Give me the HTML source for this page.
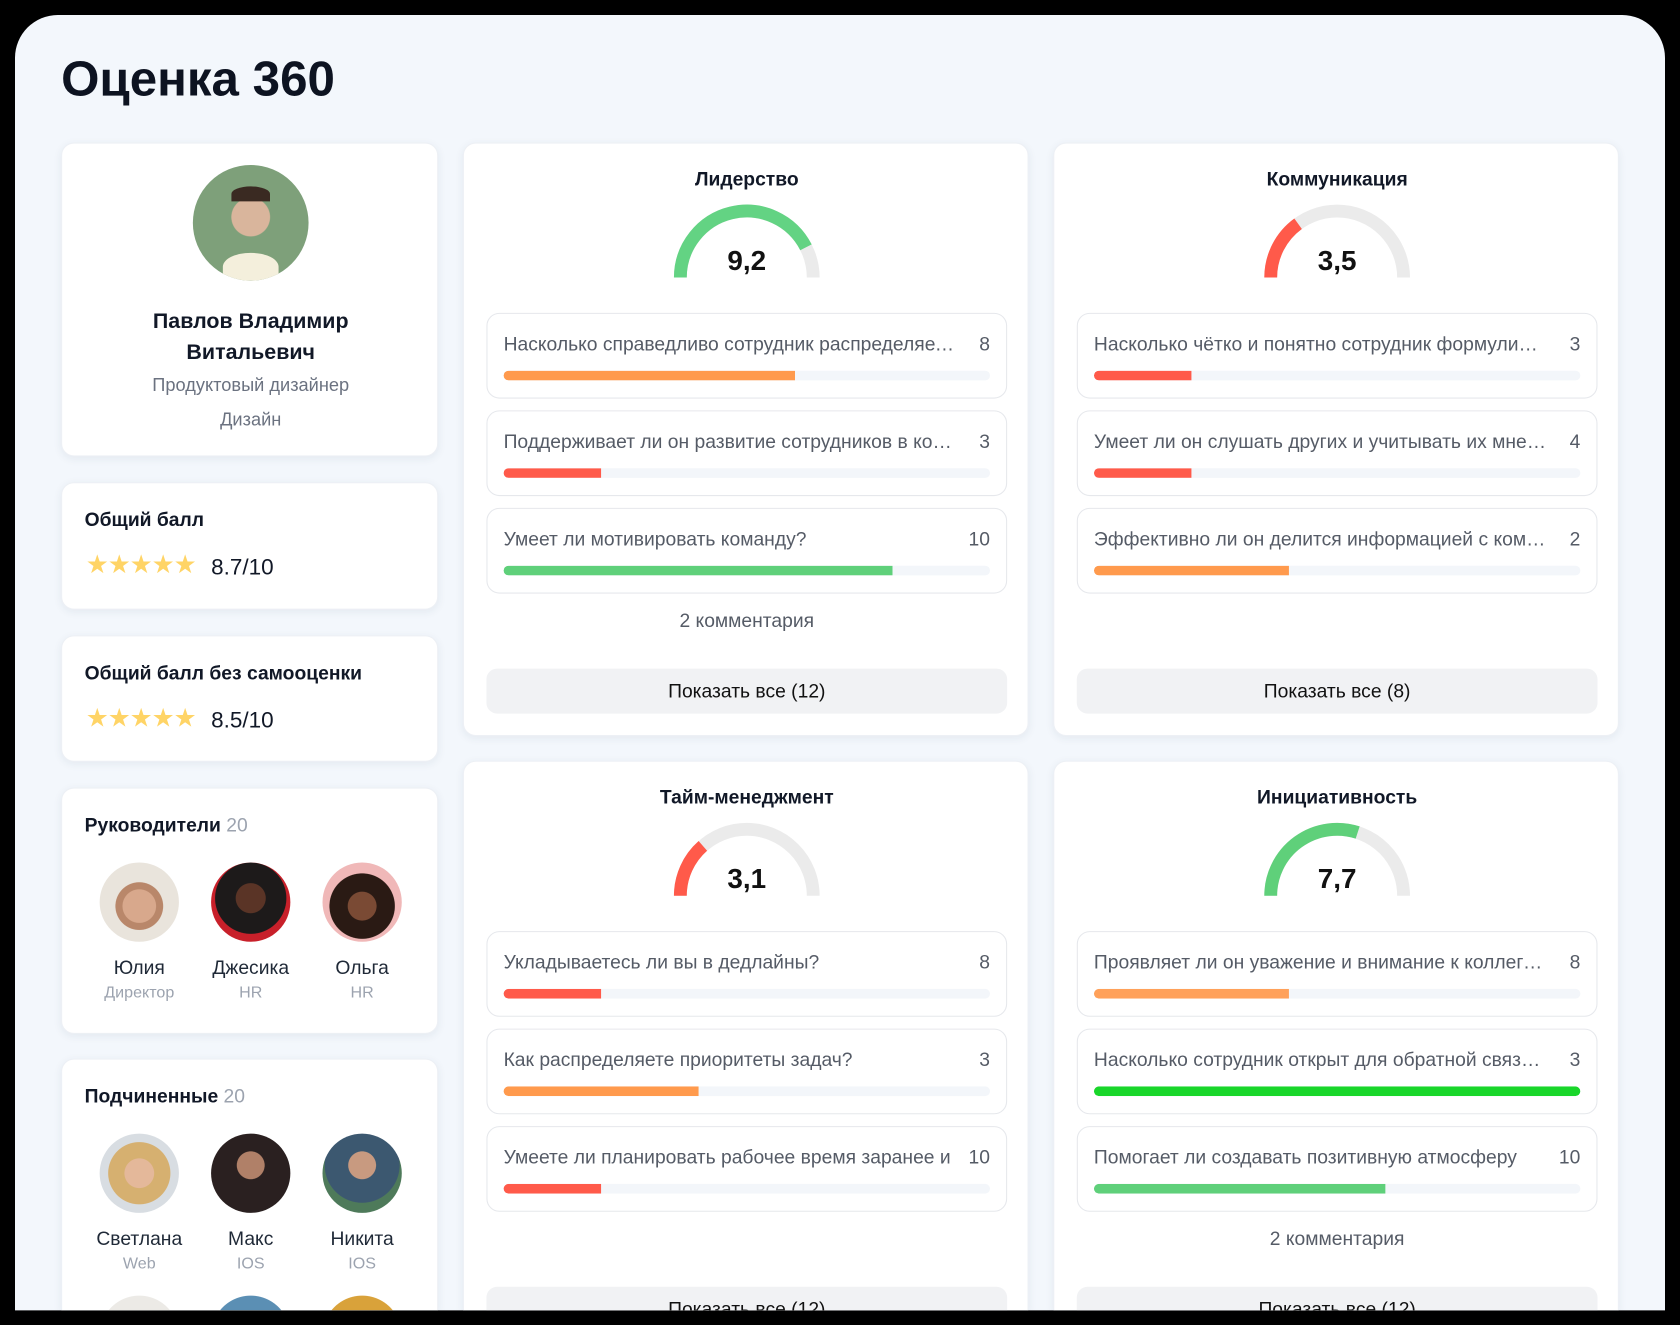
<!DOCTYPE html>
<html><head><meta charset="utf-8">
<style>
html,body{margin:0;padding:0;width:1680px;height:1325px;overflow:hidden;background:#000;}
#stage{position:absolute;left:0;top:0;width:1568px;height:1236px;overflow:hidden;transform:scale(1.071429);transform-origin:0 0;font-family:"Liberation Sans","DejaVu Sans",sans-serif;color:#111827;}
#clip{position:absolute;left:14px;top:14px;width:1540px;height:1209px;background:#f3f7fc;border-radius:40px 40px 0 0;overflow:hidden;}
#inner{position:absolute;left:-14px;top:-14px;width:1568px;height:1223px;}
.abs{position:absolute;}
.card{position:absolute;background:#fff;border-radius:12px;box-shadow:0 2px 8px rgba(30,50,90,0.07);border:1px solid #edf0f5;box-sizing:border-box;overflow:hidden;}
.cut{border-bottom:none;border-radius:12px 12px 0 0;}
.ctr{text-align:center;}
.q{position:absolute;border:1px solid #e6e8ec;border-radius:12px;box-sizing:border-box;background:#fff;}
.qt{position:absolute;left:15px;top:18px;width:422px;font-size:18px;color:#555b66;white-space:nowrap;overflow:hidden;text-overflow:ellipsis;}
.qn{position:absolute;right:15px;top:18px;font-size:18px;color:#555b66;}
.track{position:absolute;left:15px;top:53px;width:454px;height:9px;background:#f3f6fa;border-radius:5px;overflow:hidden;}
.fill{position:absolute;left:0;top:0;height:9px;border-radius:5px 0 0 5px;}
.btn{position:absolute;height:42px;border-radius:10px;background:#f1f2f4;font-size:18px;color:#111;text-align:center;line-height:42px;overflow:hidden;}
.person{position:absolute;width:104px;text-align:center;}
.av{width:74px;height:74px;border-radius:50%;margin:0 auto;}
.pn{font-size:18px;margin-top:14px;color:#1f2937;}
.pr{font-size:15px;color:#9ca3af;margin-top:4px;}
.star{font-size:24px;color:#ffd466;letter-spacing:-1px;}
</style></head>
<body>
<div id="stage">
<div id="clip">
<div id="inner">
<div class="abs" style="left:57px;top:46px;font-size:46px;font-weight:bold;color:#0d1321;">Оценка 360</div>

<div class="card" style="left:57px;top:133px;width:352px;height:293px;">
  <div class="abs" style="left:122px;top:20px;width:108px;height:108px;border-radius:50%;background:radial-gradient(circle at 50% 45%,#d9b59c 0 22%,#7ea07a 23%);overflow:hidden;">
    <div class="abs" style="left:28px;top:82px;width:52px;height:26px;border-radius:50% 50% 0 0;background:#f4efdc;"></div>
    <div class="abs" style="left:36px;top:20px;width:36px;height:14px;border-radius:50% 50% 0 0;background:#3a2a22;"></div>
  </div>
  <div class="abs ctr" style="left:0;top:152px;width:352px;font-size:20px;font-weight:bold;line-height:29px;">Павлов Владимир<br>Витальевич</div>
  <div class="abs ctr" style="left:0;top:216px;width:352px;font-size:17px;color:#6b7280;">Продуктовый дизайнер</div>
  <div class="abs ctr" style="left:0;top:248px;width:352px;font-size:17px;color:#6b7280;">Дизайн</div>
</div>

<div class="card" style="left:57px;top:450px;width:352px;height:119px;">
  <div class="abs" style="left:21px;top:24px;font-size:18px;font-weight:bold;">Общий балл</div>
  <div class="abs" style="left:22px;top:62px;"><span class="star">★★★★★</span></div>
  <div class="abs" style="left:139px;top:67px;font-size:21px;">8.7/10</div>
</div>
<div class="card" style="left:57px;top:593px;width:352px;height:118px;">
  <div class="abs" style="left:21px;top:24px;font-size:18px;font-weight:bold;">Общий балл без самооценки</div>
  <div class="abs" style="left:22px;top:62px;"><span class="star">★★★★★</span></div>
  <div class="abs" style="left:139px;top:67px;font-size:21px;">8.5/10</div>
</div>

<div class="card" style="left:57px;top:735px;width:352px;height:230px;">
  <div class="abs" style="left:21px;top:24px;font-size:18px;font-weight:bold;">Руководители <span style="color:#9ca3af;font-weight:normal;">20</span></div>
  <div class="person" style="left:20px;top:69px;"><div class="av" style="background:radial-gradient(circle at 50% 55%,#d8a88c 0 28%,#b9876a 29% 40%,#e9e4dc 41%);"></div><div class="pn">Юлия</div><div class="pr">Директор</div></div>
  <div class="person" style="left:124px;top:69px;"><div class="av" style="background:radial-gradient(circle at 50% 45%,#5a3426 0 25%,#1d1a1a 26% 60%,#c8202a 61%);"></div><div class="pn">Джесика</div><div class="pr">HR</div></div>
  <div class="person" style="left:228px;top:69px;"><div class="av" style="background:radial-gradient(circle at 50% 55%,#7a4a34 0 24%,#2a1a14 25% 55%,#f0b8b8 56%);"></div><div class="pn">Ольга</div><div class="pr">HR</div></div>
</div>

<div class="card cut" style="left:57px;top:988px;width:352px;height:235px;">
  <div class="abs" style="left:21px;top:24px;font-size:18px;font-weight:bold;">Подчиненные <span style="color:#9ca3af;font-weight:normal;">20</span></div>
  <div class="person" style="left:20px;top:69px;"><div class="av" style="background:radial-gradient(circle at 50% 50%,#e4b89a 0 26%,#d6b070 27% 55%,#d8dde2 56%);"></div><div class="pn">Светлана</div><div class="pr">Web</div></div>
  <div class="person" style="left:124px;top:69px;"><div class="av" style="background:radial-gradient(circle at 50% 40%,#b08068 0 22%,#2a2020 23%);"></div><div class="pn">Макс</div><div class="pr">IOS</div></div>
  <div class="person" style="left:228px;top:69px;"><div class="av" style="background:radial-gradient(circle at 50% 40%,#c89a80 0 22%,#3c5870 23% 60%,#4e7a5a 61%);"></div><div class="pn">Никита</div><div class="pr">IOS</div></div>
  <div class="abs" style="left:35px;top:220px;width:74px;height:14px;background:radial-gradient(circle 37px at 37px 37px,#eceae6 36.5px,transparent 37px);"></div>
  <div class="abs" style="left:139px;top:220px;width:74px;height:14px;background:radial-gradient(circle 37px at 37px 37px,#5b8fb4 36.5px,transparent 37px);"></div>
  <div class="abs" style="left:243px;top:220px;width:74px;height:14px;background:radial-gradient(circle 37px at 37px 37px,#d9a23a 36.5px,transparent 37px);"></div>
</div>
</div>
</div>
</div>

<script>
// Chart data
const categories = ["Лидерство","Коммуникация","Тайм-менеджмент","Инициативность"];
const gaugeValues = ["9,2","3,5","3,1","7,7"];
const gaugeFill = [0.85,0.3,0.27,0.6];
const questions = [
 ["Насколько справедливо сотрудник распределяет задачи","Поддерживает ли он развитие сотрудников в команде","Умеет ли мотивировать команду?"],
 ["Насколько чётко и понятно сотрудник формулирует","Умеет ли он слушать других и учитывать их мнение","Эффективно ли он делится информацией с командой"],
 ["Укладываетесь ли вы в дедлайны?","Как распределяете приоритеты задач?","Умеете ли планировать рабочее время заранее и"],
 ["Проявляет ли он уважение и внимание к коллегам","Насколько сотрудник открыт для обратной связи и","Помогает ли создавать позитивную атмосферу"]
];
const answerValues = [[8,3,10],[3,4,2],[8,3,10],[8,3,10]];
const barFill = [[0.6,0.2,0.8],[0.2,0.2,0.4],[0.2,0.4,0.2],[0.4,1.0,0.6]];
const comments = ["2 комментария","","","2 комментария"];
const buttons = ["Показать все (12)","Показать все (8)","Показать все (12)","Показать все (12)"];

const barColors = [["#ff9a4d","#ff5a4a","#5fd07a"],["#ff5a4a","#ff5a4a","#ff9a4d"],["#ff5a4a","#ff9a4d","#ff5a4a"],["#ffa15a","#19d62a","#5fd07a"]];
const gaugeColors = ["#63d383","#ff5a4a","#ff5a4a","#5fd07a"];

const stage = document.getElementById('inner');
const pos = [[432,133],[983,133],[432,710],[983,710]];
const trackW = 454;
function scaleX(f){ return f*trackW; }
function arcPoint(cx,cy,r,f){ const a=Math.PI*(1-f); return [cx+r*Math.cos(a), cy-r*Math.sin(a)]; }

categories.forEach((cat,i)=>{
  const [x,y]=pos[i];
  const card=document.createElement('div');
  card.className= i<2 ? 'card' : 'card cut';
  card.style.cssText=`left:${x}px;top:${y}px;width:528px;height:${i<2?554:513}px;`;
  
  
  stage.appendChild(card);

  const t=document.createElement('div');
  t.className='abs ctr';
  t.style.cssText='left:0;top:23px;width:528px;font-size:18px;font-weight:bold;';
  t.textContent=cat;
  
  
  card.appendChild(t);

  const cx=264, cy=125, r=62;
  const ns='http://www.w3.org/2000/svg';
  const svg=document.createElementNS(ns,'svg');
  svg.setAttribute('width','528'); svg.setAttribute('height','140');
  svg.style.cssText='position:absolute;left:0;top:0;';
  
  
  const bg=document.createElementNS(ns,'path');
  bg.setAttribute('d',`M${cx-r},${cy} A${r},${r} 0 0 1 ${cx+r},${cy}`);
  bg.setAttribute('fill','none'); bg.setAttribute('stroke','#ebebeb'); bg.setAttribute('stroke-width','12');
  
  
  svg.appendChild(bg);
  const [ex,ey]=arcPoint(cx,cy,r,gaugeFill[i]);
  const fg=document.createElementNS(ns,'path');
  fg.setAttribute('d',`M${cx-r},${cy} A${r},${r} 0 0 1 ${ex.toFixed(2)},${ey.toFixed(2)}`);
  fg.setAttribute('fill','none'); fg.setAttribute('stroke',gaugeColors[i]); fg.setAttribute('stroke-width','12');
  
  
  svg.appendChild(fg);
  const tx=document.createElementNS(ns,'text');
  tx.setAttribute('x',cx); tx.setAttribute('y',cy-7); tx.setAttribute('text-anchor','middle');
  tx.setAttribute('font-size','26'); tx.setAttribute('font-weight','bold'); tx.setAttribute('fill','#111');
  tx.setAttribute('font-family','Liberation Sans, sans-serif');
  tx.textContent=gaugeValues[i];
  
  
  svg.appendChild(tx);
  card.appendChild(svg);

  questions[i].forEach((q,j)=>{
    const box=document.createElement('div');
    box.className='q';
    box.style.cssText=`left:21px;top:${158+j*91}px;width:486px;height:80px;`;
    
    
    const qt=document.createElement('div'); qt.className='qt'; qt.textContent=q;
    
    
    const qn=document.createElement('div'); qn.className='qn'; qn.textContent=answerValues[i][j];
    
    
    const tr=document.createElement('div'); tr.className='track';
    
    
    const f=document.createElement('div'); f.className='fill';
    f.style.width=scaleX(barFill[i][j])+'px'; f.style.background=barColors[i][j];
    if(barFill[i][j]>=1) f.style.borderRadius='5px';
    
    
    tr.appendChild(f);
    box.appendChild(qt); box.appendChild(qn); box.appendChild(tr);
    card.appendChild(box);
  });

  if(comments[i]){
    const c=document.createElement('div');
    c.className='abs ctr';
    c.style.cssText='left:0;top:435px;width:528px;font-size:18px;color:#555b66;';
    c.textContent=comments[i];
    
    
    card.appendChild(c);
  }
  const b=document.createElement('div');
  b.className='btn';
  b.style.cssText= i<2 ? 'left:21px;top:490px;width:486px;' : 'left:21px;top:490px;width:486px;height:23px;border-radius:10px 10px 0 0;';
  b.textContent=buttons[i];
  
  
  card.appendChild(b);
});
</script>
</body></html>
